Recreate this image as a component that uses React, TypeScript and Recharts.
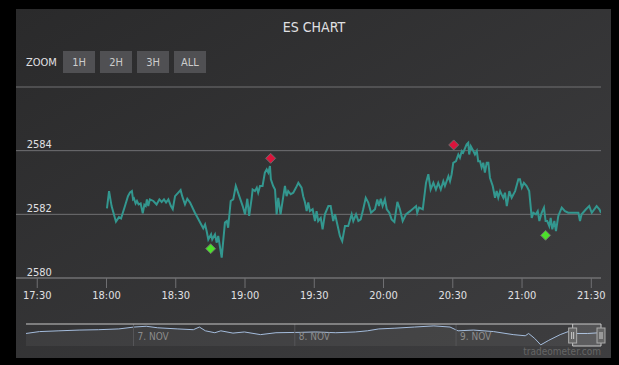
import React from "react";
import {
  ComposedChart,
  Line,
  Scatter,
  XAxis,
  YAxis,
  CartesianGrid,
  AreaChart,
  Area,
  ReferenceLine,
  ReferenceArea,
} from "recharts";

const FONT = "'Liberation Sans Narrow', 'DejaVu Sans Condensed', 'DejaVu Sans', sans-serif";

// minutes after 17:30 (9 Nov)
const minutes = [
  30.2, 31.1, 32.2, 34.1, 35.4, 36.3, 38.0, 39.3, 40.2, 41.0,
  41.5, 41.9, 42.6, 43.2, 43.9, 44.8, 45.7, 46.4, 47.0, 47.5,
  48.1, 48.8, 50.3, 51.7, 52.9, 53.9, 54.9, 55.8, 56.8, 57.9,
  58.7, 59.7, 61.1, 62.1, 62.8, 64.0, 65.0, 66.2, 68.3, 70.5,
  71.9, 72.7, 73.4, 74.1, 75.3, 75.8, 77.0, 77.7, 78.4, 79.9,
  81.3, 82.1, 82.7, 83.8, 84.9, 86.0, 87.5, 89.0, 90.0, 91.0,
  91.8, 92.9, 93.3, 94.3, 95.1, 95.7, 96.5, 97.6, 98.6, 99.4,
  100.1, 100.8, 101.2, 102.2, 103.0, 103.7, 104.4, 105.4, 106.6, 107.3,
  108.0, 108.7, 109.8, 110.9, 112.1, 113.1, 114.5, 115.2, 116.0, 116.7,
  117.4, 118.1, 119.3, 120.3, 121.0, 121.7, 122.8, 123.6, 124.6, 126.1,
  127.1, 128.2, 129.0, 130.0, 131.1, 132.1, 133.3, 134.7, 136.2, 136.9,
  138.1, 139.1, 140.1, 141.2, 142.3, 143.4, 144.6, 146.3, 147.3, 148.0,
  148.8, 149.6, 150.6, 151.4, 152.5, 153.5, 154.7, 156.0, 157.1, 158.3,
  159.7, 161.5, 164.1, 164.6, 165.4, 167.0, 168.4, 169.4, 170.4, 171.6,
  172.7, 173.7, 174.8, 175.9, 176.6, 178.1, 178.8, 179.5, 180.2, 181.4,
  182.4, 183.1, 183.9, 184.5, 186.0, 186.7, 187.1, 187.8, 188.9, 189.6,
  190.4, 191.0, 191.8, 192.5, 193.2, 193.9, 194.7, 195.4, 196.1, 197.3,
  198.3, 199.0, 199.7, 200.5, 201.2, 201.9, 202.6, 203.4, 204.5, 205.5,
  207.0, 208.4, 209.1, 209.9, 210.8, 212.0, 213.1, 214.2, 214.9, 216.0,
  216.8, 217.5, 218.5, 219.5, 220.2, 220.9, 221.8, 222.4, 223.1, 224.0,
  224.7, 225.7, 227.2, 228.6, 230.0, 234.4, 235.1, 235.8, 237.7, 239.1,
  240.2, 242.3, 243.5, 244.2,
];

const prices = [
  2582.19, 2582.73, 2582.26, 2581.77, 2581.91, 2581.87, 2582.26, 2582.57, 2582.69, 2582.73,
  2582.47, 2582.5, 2582.34, 2582.42, 2582.31, 2582.34, 2582.03, 2582.3, 2582.26, 2582.47,
  2582.26, 2582.47, 2582.42, 2582.31, 2582.47, 2582.39, 2582.47, 2582.37, 2582.47, 2582.26,
  2582.16, 2582.57, 2582.68, 2582.76, 2582.57, 2582.31, 2582.49, 2582.37, 2582.05, 2581.75,
  2581.56, 2581.68, 2581.47, 2581.21, 2581.37, 2581.21, 2581.37, 2581.11, 2581.32, 2580.64,
  2581.74, 2581.79, 2581.58, 2582.42, 2582.47, 2582.89, 2582.57, 2582.26, 2582.0, 2582.49,
  2581.95, 2582.52, 2582.78, 2582.73, 2582.84, 2582.68, 2582.89, 2582.89, 2583.31, 2583.41,
  2583.31, 2583.52, 2583.1, 2582.89, 2582.78, 2582.0, 2582.52, 2582.0, 2582.57, 2582.89,
  2582.57, 2582.73, 2582.63, 2582.68, 2582.84, 2582.99, 2582.84, 2582.57, 2582.37, 2582.1,
  2582.37, 2582.1, 2582.16, 2581.79, 2582.1, 2581.79, 2581.89, 2581.53, 2582.0, 2582.26,
  2582.26, 2581.79, 2582.0, 2581.68, 2581.32, 2581.16, 2581.63, 2581.63, 2582.0, 2581.79,
  2582.0, 2581.79, 2581.84, 2582.16, 2582.52, 2582.37, 2582.05, 2582.16, 2582.47, 2582.26,
  2582.49, 2582.26, 2582.47, 2582.16, 2582.05, 2581.84, 2581.76, 2582.39, 2582.16, 2581.79,
  2582.0, 2582.1, 2582.26, 2582.05, 2582.21, 2582.16, 2582.99, 2583.26, 2582.78, 2582.99,
  2582.78, 2582.99, 2582.78, 2583.04, 2582.89, 2583.2, 2583.04, 2583.26, 2583.62, 2583.67,
  2583.88, 2583.78, 2583.99, 2583.94, 2584.2, 2584.25, 2583.88, 2584.14, 2583.99, 2583.88,
  2583.99, 2583.67, 2583.67, 2583.47, 2583.62, 2583.31, 2583.62, 2583.62, 2583.15, 2582.89,
  2582.52, 2582.73, 2582.52, 2582.73, 2582.62, 2582.52, 2582.68, 2582.26, 2582.73, 2582.52,
  2582.73, 2583.1, 2583.1, 2582.84, 2582.99, 2582.89, 2582.73, 2581.89, 2582.05, 2582.0,
  2582.1, 2581.79, 2582.05, 2582.21, 2581.79, 2581.79, 2581.63, 2581.89, 2581.53, 2581.79,
  2581.47, 2581.95, 2582.21, 2582.1, 2582.05, 2582.05, 2581.79, 2582.0, 2582.16, 2582.26,
  2582.05, 2582.26, 2582.16, 2582.05,
];

// trade signals
const buyMinutes = [75.1, 220.2];
const buyPrices = [2580.92, 2581.34];
const sellMinutes = [101.1, 180.4];
const sellPrices = [2583.76, 2584.18];

const timeTicks = [0, 30, 60, 90, 120, 150, 180, 210, 240];
const priceTicks = [2580, 2582, 2584, 2586];

// navigator: hours after 6 Nov 00:00
const navHours = [
  8.0, 10.0, 12.9, 15.9, 18.8, 21.8, 24.1, 25.9, 27.6, 30.6,
  32.9, 33.8, 34.7, 36.1, 37.0, 38.8, 40.5, 42.9, 45.2, 48.8,
  51.1, 54.1, 57.0, 58.8, 60.5, 62.9, 65.8, 68.7, 71.1, 72.3,
  74.6, 77.6, 80.5, 82.3, 82.8, 83.7, 84.6, 85.8, 87.5, 88.7,
  89.9, 91.6, 93.4,
];
const navPrices = [
  2582.25, 2583.5, 2584.0, 2584.5, 2584.75, 2585.25, 2586.5, 2587.0, 2586.0, 2585.25,
  2584.75, 2586.5, 2584.0, 2582.75, 2584.0, 2582.5, 2583.25, 2581.5, 2582.75, 2583.0,
  2583.25, 2582.75, 2583.25, 2584.0, 2585.25, 2585.75, 2586.5, 2587.25, 2586.5, 2584.0,
  2584.5, 2583.5, 2581.5, 2580.75, 2582.25, 2579.0, 2574.75, 2577.75, 2581.5, 2583.5,
  2582.25, 2582.25, 2582.75,
];
const dayStarts = [24, 48, 72];
const dayLabels = ["7. NOV", "8. NOV", "9. NOV"];
const selectedHours = [89.35, 93.57];

const zoomButtons = ["1H", "2H", "3H", "ALL"];

const mainData = minutes.map((t, i) => ({ t, price: prices[i] }));
const buyData = buyMinutes.map((t, i) => ({ t, price: buyPrices[i] }));
const sellData = sellMinutes.map((t, i) => ({ t, price: sellPrices[i] }));
const navData = navHours.map((h, i) => ({ h, price: navPrices[i] }));

function clock(m: number) {
  const total = 17 * 60 + 30 + m;
  const hh = Math.floor(total / 60);
  const mm = Math.round(total % 60);
  return `${hh}:${String(mm).padStart(2, "0")}`;
}

const diamond = (color: string) => (props: any) => {
  const { cx, cy } = props;
  const r = 5;
  return (
    <path
      d={`M${cx},${cy - r}L${cx + r},${cy}L${cx},${cy + r}L${cx - r},${cy}Z`}
      fill={color}
      stroke="#6b6b6b"
      strokeWidth={1}
    />
  );
};

const txt = { fontFamily: FONT, fontStretch: "condensed" as const };

function TimeTick(props: any) {
  const { x, y, payload } = props;
  return (
    <text x={x} y={y + 11} textAnchor="middle" fill="#E0E0E3" fontSize={11} style={txt}>
      {clock(payload.value)}
    </text>
  );
}

function PriceTick(props: any) {
  const { y, payload } = props;
  if (payload.value === 2586) return null;
  return (
    <text x={10.7} y={y - 2.3} fill="#E0E0E3" fontSize={11} style={txt}>
      {payload.value}
    </text>
  );
}

function Selection(props: any) {
  const { x, y, width, height } = props;
  const handle = (hx: number) => (
    <g>
      <rect x={hx - 4} y={y + 4} width={8} height={15} fill="#666" stroke="#aaa" strokeWidth={1} />
      <path d={`M${hx - 1},${y + 8}V${y + 15}M${hx + 1},${y + 8}V${y + 15}`} stroke="#ccc" strokeWidth={1} />
    </g>
  );
  return (
    <g>
      <rect x={x} y={y} width={width} height={height} fill="rgba(255,255,255,0.12)" />
      <path
        d={`M${x},${y}V${y + height}H${x + width}V${y}`}
        fill="none"
        stroke="#c8c8c8"
        strokeWidth={1}
      />
      {handle(x)}
      {handle(x + width)}
    </g>
  );
}

export default function App() {
  return (
    <div style={{ position: "relative", width: 619, height: 365, background: "#000", overflow: "hidden" }}>
      <style>{"body{margin:0;background:#000}"}</style>
      <div
        style={{
          position: "absolute",
          left: 16,
          top: 9,
          width: 595,
          height: 349,
          background: "linear-gradient(to bottom right, #2a2a2b, #3e3e40)",
        }}
      />
      {/* header, buttons, credit */}
      <svg width={619} height={365} style={{ position: "absolute", left: 0, top: 0 }}>
        <text x={314} y={32} textAnchor="middle" fill="#E0E0E3" fontSize={14} style={txt}>
          ES CHART
        </text>
        <text x={26} y={66} fill="#E0E0E3" fontSize={11} style={txt}>
          ZOOM
        </text>
        {zoomButtons.map((label, i) => (
          <g key={label}>
            <rect x={63 + i * 37} y={51} width={32} height={22} fill="#505053" />
            <text x={79 + i * 37} y={66} textAnchor="middle" fill="#CCC" fontSize={11} style={txt}>
              {label}
            </text>
          </g>
        ))}
        <text x={601} y={355} textAnchor="end" fill="#666" fontSize={10} style={txt}>
          tradeometer.com
        </text>
      </svg>

      {/* main chart */}
      <div style={{ position: "absolute", left: 16, top: 80 }}>
        <ComposedChart width={595} height={225} data={mainData} margin={{ top: 7, right: 10, bottom: 0, left: 0 }}>
          <CartesianGrid vertical={false} stroke="#707073" />
          <XAxis
            dataKey="t"
            type="number"
            domain={[-9.2, 244.2]}
            ticks={timeTicks}
            interval={0}
            allowDataOverflow
            height={27}
            tickSize={10}
            tickMargin={0}
            tickLine={{ stroke: "#707073" }}
            axisLine={{ stroke: "#707073" }}
            tick={<TimeTick />}
          />
          <YAxis
            type="number"
            domain={[2580, 2586]}
            ticks={priceTicks}
            interval={0}
            mirror
            axisLine={false}
            tickLine={false}
            tick={<PriceTick />}
          />
          <Line
            dataKey="price"
            stroke="#33978f"
            strokeWidth={2}
            dot={false}
            activeDot={false}
            isAnimationActive={false}
          />
          <Scatter data={sellData} dataKey="price" shape={diamond("#dc143c")} isAnimationActive={false} />
          <Scatter data={buyData} dataKey="price" shape={diamond("#4de02c")} isAnimationActive={false} />
        </ComposedChart>
      </div>

      {/* navigator */}
      <div style={{ position: "absolute", left: 20, top: 322 }}>
        <AreaChart width={587} height={26} data={navData} margin={{ top: 2, right: 6, bottom: 2, left: 6 }}>
          <XAxis dataKey="h" type="number" domain={[8, 93.57]} hide allowDataOverflow />
          <YAxis type="number" domain={[2574, 2588.5]} hide allowDataOverflow />
          <Area
            dataKey="price"
            stroke="#a4bcdc"
            strokeWidth={1}
            fill="#ffffff"
            fillOpacity={0.05}
            isAnimationActive={false}
          />
          {dayStarts.map((d, i) => (
            <ReferenceLine
              key={d}
              x={d}
              stroke="#555558"
              label={(p: any) => (
                <text x={p.viewBox.x + 4} y={p.viewBox.y + 16} fill="#8c8c8c" fontSize={10} style={txt}>
                  {dayLabels[i]}
                </text>
              )}
            />
          ))}
          <ReferenceLine y={2588.5} stroke="#c8c8c8" />
          <ReferenceArea x1={selectedHours[0]} x2={selectedHours[1]} shape={<Selection />} />
        </AreaChart>
      </div>
    </div>
  );
}
